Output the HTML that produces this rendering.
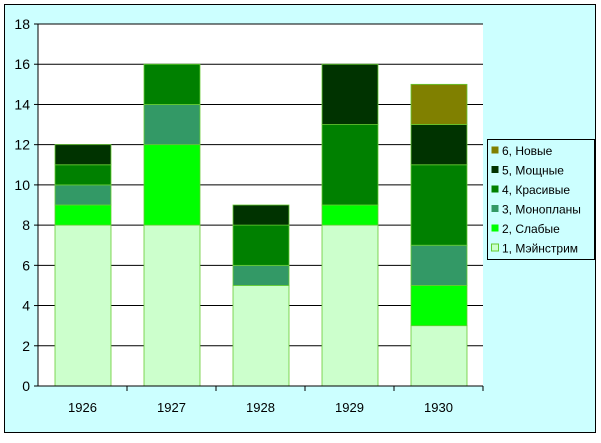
<!DOCTYPE html>
<html><head><meta charset="utf-8"><style>
body{margin:0;background:#fff;font-family:"Liberation Sans",Arial,sans-serif}
</style></head><body>
<svg width="601" height="438" xmlns="http://www.w3.org/2000/svg" font-family="Liberation Sans, Arial, sans-serif">
<rect x="4.5" y="4.5" width="591" height="428" fill="#ccffff" stroke="#000"/>
<rect x="38" y="24" width="445" height="362" fill="#fff"/>
<g id="grid"></g><g id="bars"></g><g id="axes"></g>
<g id="legend"></g>
</svg>
<script>
const categories=["1926","1927","1928","1929","1930"];
const seriesNames=["1, Мэйнстрим","2, Слабые","3, Монопланы","4, Красивые","5, Мощные","6, Новые"];
const s1=[8,8,5,8,3];
const s2=[1,4,0,1,2];
const s3=[1,2,1,0,2];
const s4=[1,2,2,4,4];
const s5=[1,0,1,3,2];
const s6=[0,0,0,0,2];
const yTicks=[0,2,4,6,8,10,12,14,16,18];
const colors=["#ccffcc","#00ff00","#339966","#008000","#003300","#808000"];
const series=[s1,s2,s3,s4,s5,s6];
const NS="http://www.w3.org/2000/svg";
const x0=38,x1=483,yTop=24,yBot=386,yMax=18;
const y=v=>yBot-(v/yMax)*(yBot-yTop);
const bw=(x1-x0)/categories.length;
function mk(t,a,p){const e=document.createElementNS(NS,t);for(const k in a)e.setAttribute(k,a[k]);p.appendChild(e);return e;}
const grid=document.getElementById('grid'),bars=document.getElementById('bars'),axes=document.getElementById('axes'),leg=document.getElementById('legend');
yTicks.forEach(t=>{
 if(t>0){const l=mk('line',{x1:x0,x2:x1,y1:y(t),y2:y(t),stroke:'#000','stroke-width':1},grid);
 
 }
 const tk=mk('line',{x1:x0-4,x2:x0,y1:y(t),y2:y(t),stroke:'#000'},axes);
 
 
 const tx=mk('text',{x:x0-8,y:y(t)+5,'text-anchor':'end','font-size':14},axes);
 tx.textContent=t;
 
 
});
categories.forEach((c,i)=>{
 let acc=0;const bx=x0+i*bw+17,w=bw-33;
 series.forEach((s,k)=>{
  const v=s[i];if(!v)return;
  const r=mk('rect',{x:bx,y:y(acc+v),width:w,height:y(acc)-y(acc+v),fill:colors[k],stroke:'#66cc33','stroke-width':0.8},bars);
  
  
  acc+=v;
 });
 const t=mk('text',{x:x0+i*bw+bw/2,y:yBot+26,'text-anchor':'middle','font-size':13},axes);
 t.textContent=c;
 
 
 const tk=mk('line',{x1:x0+(i+1)*bw,x2:x0+(i+1)*bw,y1:yBot,y2:yBot+5,stroke:'#000'},axes);
 
 
});
const ya=mk('line',{x1:x0,x2:x0,y1:yTop,y2:yBot,stroke:'#000'},axes);


const xa=mk('line',{x1:x0,x2:x1,y1:yBot,y2:yBot,stroke:'#000'},axes);


const lb=mk('rect',{x:487.5,y:139.5,width:107,height:120,fill:'#ccffff',stroke:'#000'},leg);


for(let k=5;k>=0;k--){
 const yy=150+(5-k)*19.5;
 const g=mk('g',{},leg);
 
 
 mk('rect',{x:491.5,y:yy-3.5,width:7,height:7,fill:colors[k],stroke:k==0?'#66cc33':'none'},g);
 const t=mk('text',{x:502,y:yy+5,'font-size':12},g);
 t.textContent=seriesNames[k];
}
</script>
</body></html>
